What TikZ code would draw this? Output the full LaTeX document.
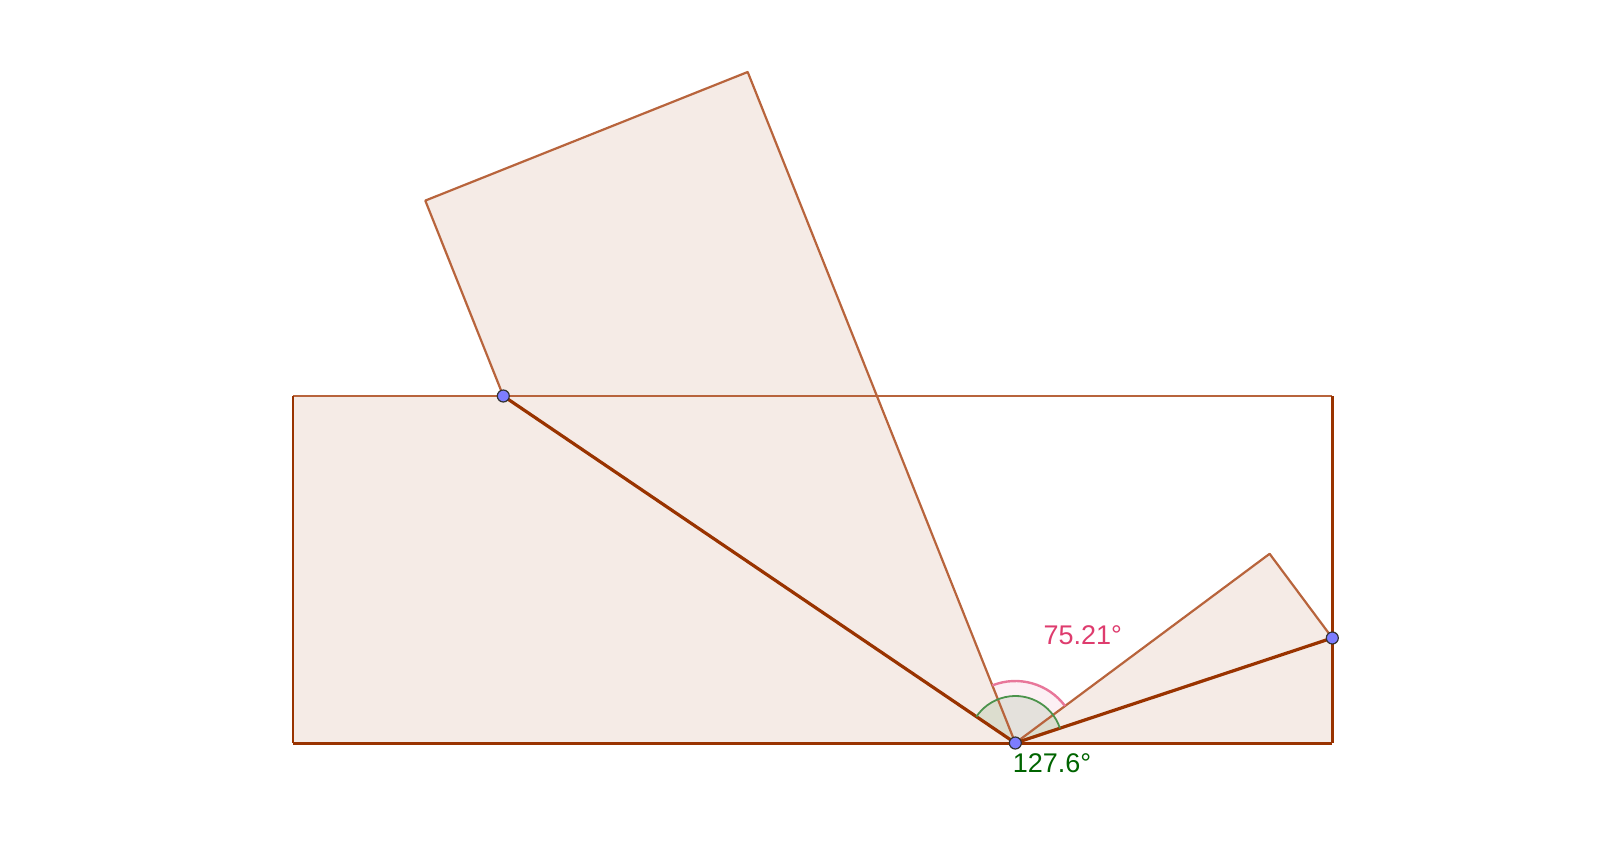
\documentclass[tikz,border=0pt]{standalone}
\usepackage{fontspec}
\setmainfont{Liberation Sans}
\definecolor{seg}{RGB}{153,51,0}
\definecolor{edge}{RGB}{184,100,60}
\definecolor{paper}{RGB}{245,235,230}
\definecolor{ptfill}{RGB}{125,125,255}
\definecolor{angpink}{RGB}{222,60,110}
\definecolor{anggreen}{RGB}{0,100,0}
\tikzset{
  paperfill/.style={fill=paper},
  thinedge/.style={draw=edge,line width=2.2pt,line join=round},
  thickseg/.style={draw=seg,line width=3.2pt,line cap=round},
  sideseg/.style={draw=seg,line width=2.6pt},
  pt/.style={circle,draw=black!80,fill=ptfill,line width=1.2pt,inner sep=0pt,minimum size=12pt},
  lbl/.style={font=\fontsize{27}{32}\selectfont,inner sep=0pt}
}
\begin{document}
\begin{tikzpicture}[x=1pt,y=-1pt]
\path[use as bounding box] (0,0) rectangle (1600,866);
\coordinate (BL) at (292.9,743);
\coordinate (TL) at (292.9,396);
\coordinate (TR) at (1332.3,396);
\coordinate (BR) at (1332.3,743);
\coordinate (P1c) at (503.3,396);
\coordinate (P0c) at (1015.3,743);
\coordinate (P2c) at (1332.3,638);
\coordinate (A) at (425.3,200.6);
\coordinate (B) at (747.7,72.0);
\coordinate (C) at (1269.6,553.8);
% fills
\fill[paperfill] (TL) -- (P1c) -- (P0c) -- (BL) -- cycle;
\fill[paperfill] (P1c) -- (A) -- (B) -- (P0c) -- cycle;
\fill[paperfill] (P0c) -- (BR) -- (P2c) -- cycle;
\fill[paperfill] (P0c) -- (C) -- (P2c) -- cycle;
% angle sectors
\fill[anggreen,opacity=0.1] (P0c) -- ++(18.33:47pt) arc[start angle=18.33,end angle=145.88,radius=47pt] -- cycle;
\fill[angpink,opacity=0.08] (P0c) -- ++(36.65:62pt) arc[start angle=36.65,end angle=111.74,radius=62pt] -- cycle;
% thin edges
\draw[thinedge] (TL) -- (TR);
\draw[thinedge] (P1c) -- (A) -- (B) -- (P0c);
\draw[thinedge] (P0c) -- (C) -- (P2c);
% outer sides
\draw[sideseg,line width=3pt] (BL) -- (BR);
\draw[sideseg] (TL) -- (BL);
\draw[sideseg] (TR) -- (BR);
% fold segments
\draw[thickseg] (P1c) -- (P0c);
\draw[thickseg] (P0c) -- (P2c);
% angle arcs
\draw[anggreen!70,line width=1.8pt] ([shift={(18.33:47pt)}]P0c) arc[start angle=18.33,end angle=145.88,radius=47pt];
\draw[angpink!70,line width=2.4pt] ([shift={(36.65:62pt)}]P0c) arc[start angle=36.65,end angle=111.74,radius=62pt];
% points
\node[pt] (P1) at (P1c) {};
\node[pt] (P0) at (P0c) {};
\node[pt] (P2) at (P2c) {};
% labels
\node[lbl,text=angpink] (la) at (1082.7,635.7) {75.21°};
\node[lbl,text=anggreen] (lb) at (1052,763.3) {127.6°};
\end{tikzpicture}
\end{document}
